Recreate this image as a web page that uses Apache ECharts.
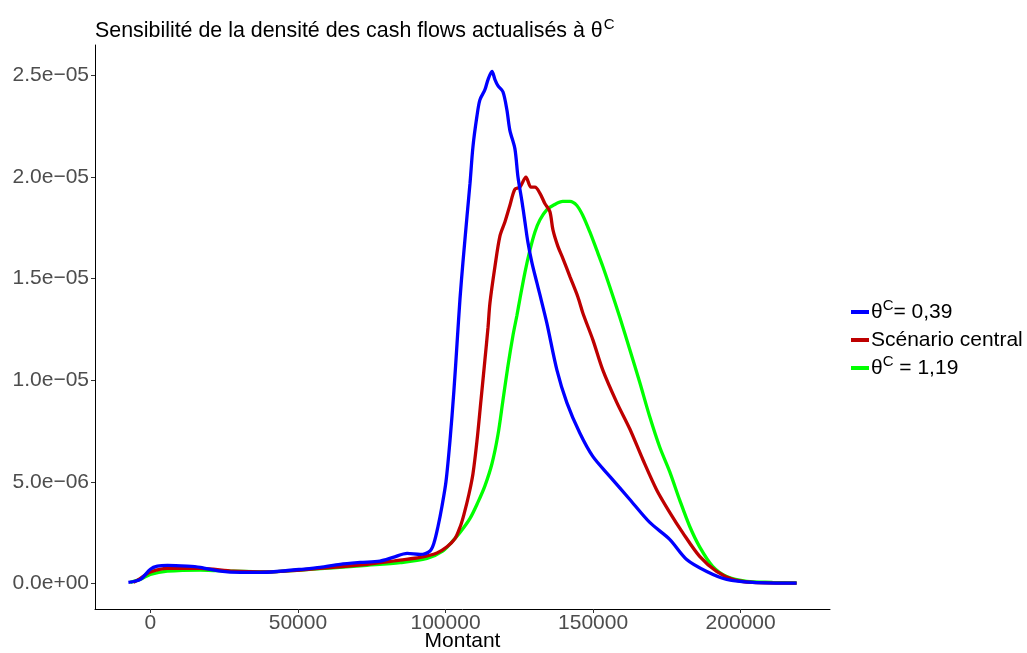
<!DOCTYPE html>
<html>
<head>
<meta charset="utf-8">
<script src="https://cdn.jsdelivr.net/npm/echarts@6/dist/echarts.min.js"></script>
<style>html,body{margin:0;padding:0;background:#fff;}#c{width:1027px;height:653px;}</style>
</head>
<body>
<div id="c"></div>
<script>
// Montant (x) values and density values (in units of 1e-6)
const blueX = [-7450,-3380,0,2370,5750,12500,16900,23700,30500,37200,44000,50800,57500,64300,71100,77800,82200,87000,91400,94750,96100,97450,98800,100150,101500,102850,103900,104900,105900,107300,108300,109300,110650,111650,113350,114400,115750,116750,117750,119450,120800,121800,123500,124550,125900,126900,127900,129250,130950,132000,134350,137750,141100,145500,149900,155650,162450,169200,175950,181700,188500,195250,204050,218950];
const blueY = [0.05,0.2,0.7,0.85,0.89,0.85,0.79,0.6,0.54,0.54,0.6,0.69,0.79,0.94,1.03,1.1,1.28,1.48,1.43,1.6,2.0,2.8,3.8,5.0,7.0,9.5,11.8,14.0,15.8,18.1,19.7,21.5,23.0,23.8,24.3,24.8,25.2,24.8,24.5,24.2,23.3,22.3,21.4,20.0,18.8,17.8,16.8,15.8,14.8,14.2,12.8,10.5,8.9,7.4,6.25,5.27,4.13,3.0,2.17,1.18,0.59,0.2,0.05,0.01];

const redX = [-5750,-3380,0,5750,16900,28100,39600,50800,61900,73400,84600,91400,97100,100500,103200,105000,106250,107950,109300,110650,112000,113350,114400,115050,116750,118450,120150,121800,123500,125200,127250,128950,130300,132000,133650,135350,136400,138050,139750,142150,144850,146550,149900,153300,158050,162450,166850,171550,175950,180350,186100,191850,197300,204050,218950];
const redY = [0.05,0.25,0.56,0.74,0.74,0.6,0.56,0.66,0.79,0.94,1.15,1.28,1.5,1.8,2.2,2.8,3.4,4.4,5.4,7.0,9.0,11.0,12.6,13.8,15.6,17.1,17.8,18.6,19.4,19.5,20.0,19.5,19.5,19.2,18.7,18.3,17.4,16.6,16.0,15.1,14.1,13.3,12.0,10.5,8.9,7.6,6.1,4.6,3.5,2.5,1.33,0.59,0.2,0.05,0.01];

const greenX = [-6770,-3380,0,5750,16900,28100,39600,50800,61900,73400,84600,93750,99150,102550,104900,108300,111000,113350,115750,117750,119450,121150,122850,124200,125200,126900,128600,130300,132000,134350,136400,139750,142150,144500,146550,148900,151250,153300,155650,159050,162450,165800,169200,172600,175950,179350,182750,186100,190500,195250,202050,210800,218950];
const greenY = [0.05,0.2,0.44,0.6,0.66,0.6,0.57,0.66,0.77,0.89,1.02,1.23,1.6,2.1,2.5,3.2,4.0,4.8,5.9,7.3,9.0,10.7,12.2,13.2,14.0,15.3,16.4,17.3,17.9,18.4,18.6,18.8,18.8,18.6,18.1,17.3,16.4,15.6,14.6,13.1,11.5,9.9,8.2,6.7,5.5,4.1,2.8,1.8,0.84,0.34,0.1,0.05,0.02];

const xTicks = [0, 50000, 100000, 150000, 200000];
const yTicks = [0, 5e-6, 1e-5, 1.5e-5, 2e-5, 2.5e-5];
const yTickLabels = ['0.0e+00','5.0e\u221206','1.0e\u221205','1.5e\u221205','2.0e\u221205','2.5e\u221205'];
const seriesNames = ['blue', 'central', 'green'];
const legendLabels = {
  blue: '{t|\u03b8}{s|C}{t|= 0,39}',
  central: '{t|Sc\u00e9nario central}{s| }',
  green: '{t|\u03b8}{s|C}{t| = 1,19}'
};
const colors = ['#0000FF', '#BE0000', '#00FF00'];

function pairs(xs, ys) { return xs.map((x, i) => [x, ys[i] * 1e-6]); }

const FONT = 'Liberation Sans, Arial, sans-serif';
const chart = echarts.init(document.getElementById('c'), null, {renderer: 'canvas'});
chart.setOption({
  animation: false,
  backgroundColor: '#ffffff',
  title: {
    text: '{a|Sensibilit\u00e9 de la densit\u00e9 des cash flows actualis\u00e9s \u00e0 \u03b8}{s|C}',
    left: 90, top: 12,
    textStyle: {
      fontWeight: 'normal',
      rich: {
        a: {fontFamily: FONT, fontSize: 21.4, fontWeight: 'normal', color: '#000'},
        s: {fontFamily: FONT, fontSize: 15, fontWeight: 'normal', color: '#000', padding: [0, 0, 14, 1]}
      }
    }
  },
  legend: {
    orient: 'vertical',
    left: 846, top: 293,
    itemWidth: 18, itemHeight: 4, itemGap: 3.5,
    icon: 'rect',
    data: seriesNames,
    formatter: n => legendLabels[n],
    textStyle: {
      fontFamily: FONT, color: '#000', padding: [0, 0, 0, -3],
      rich: {
        t: {fontFamily: FONT, fontSize: 21, color: '#000'},
        s: {fontFamily: FONT, fontSize: 15, color: '#000', padding: [0, 0, 13, 0]}
      }
    }
  },
  grid: {left: 95, right: 197, top: 45, bottom: 44, containLabel: false, outerBoundsMode: 'none'},
  xAxis: {
    type: 'value',
    min: -18765, max: 230270,
    name: 'Montant', nameLocation: 'middle', nameGap: 22, nameMoveOverlap: false,
    nameTextStyle: {fontFamily: FONT, fontSize: 21, color: '#000'},
    splitLine: {show: false},
    axisLine: {show: true, onZero: false, lineStyle: {color: '#000', width: 1}},
    axisTick: {show: true, length: 4, lineStyle: {color: '#333'}, customValues: xTicks},
    axisLabel: {fontFamily: FONT, fontSize: 21, color: '#4D4D4D', margin: 4, customValues: xTicks,
      formatter: v => String(v)}
  },
  yAxis: {
    type: 'value',
    min: -1.26e-6, max: 2.65e-5,
    splitLine: {show: false},
    axisLine: {show: true, onZero: false, lineStyle: {color: '#000', width: 1}},
    axisTick: {show: true, length: 4, lineStyle: {color: '#333'}, customValues: yTicks},
    axisLabel: {fontFamily: FONT, fontSize: 21, color: '#4D4D4D', margin: 6, customValues: yTicks,
      formatter: v => { const i = yTicks.findIndex(t => Math.abs(t - v) < 1e-9); return i >= 0 ? yTickLabels[i] : ''; }}
  },
  series: [
    {name: seriesNames[0], type: 'line', data: pairs(blueX, blueY)},
    {name: seriesNames[1], type: 'line', data: pairs(redX, redY)},
    {name: seriesNames[2], type: 'line', data: pairs(greenX, greenY)}
  ].map((s, i) => Object.assign(s, {
    showSymbol: false, symbol: 'none', smooth: 0.3, color: colors[i],
    lineStyle: {width: 3.3, color: colors[i]}, z: 3 - i
  }))
});
</script>
</body>
</html>
